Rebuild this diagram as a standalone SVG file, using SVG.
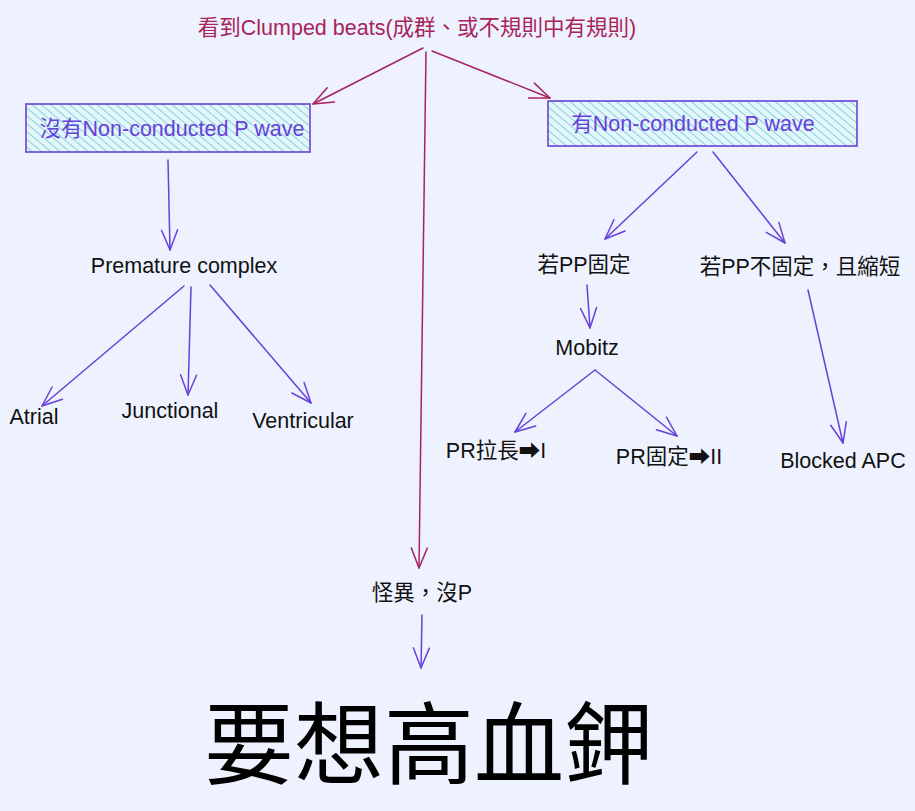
<svg xmlns="http://www.w3.org/2000/svg" width="915" height="811" viewBox="0 0 915 811">
<style>
text{font-family:"Liberation Sans","Noto Sans CJK TC","DejaVu Sans",sans-serif;text-anchor:middle}
.t{font-size:21.5px;fill:#111}
.red{font-size:21.5px;fill:#a8245a}
.pur{font-size:21.5px;fill:#6741d9}
.big{font-size:90px;fill:#000}
.box{fill:url(#hatch);stroke:#6741d9;stroke-width:1.6}
.ar{fill:none;stroke:#6741d9;stroke-width:1.5;stroke-linecap:round;stroke-linejoin:round}
.ar.r{stroke:#a8245a}
</style>
<defs>
<pattern id="hatch" patternUnits="userSpaceOnUse" width="6" height="6" patternTransform="rotate(-50)">
<rect width="6" height="6" fill="#e4f6fa"/>
<line x1="0" y1="0" x2="0" y2="6" stroke="#66c9d8" stroke-width="1.6"/>
</pattern>
<marker id="ap" markerUnits="userSpaceOnUse" markerWidth="30" markerHeight="30" refX="20" refY="10" orient="auto" overflow="visible">
<path d="M0,2 L20,10 L0,18" fill="none" stroke="#6741d9" stroke-width="1.5" stroke-linecap="round" stroke-linejoin="round"/>
</marker>
<marker id="ar" markerUnits="userSpaceOnUse" markerWidth="30" markerHeight="30" refX="20" refY="10" orient="auto" overflow="visible">
<path d="M0,2 L20,10 L0,18" fill="none" stroke="#a8245a" stroke-width="1.5" stroke-linecap="round" stroke-linejoin="round"/>
</marker>
</defs>
<rect width="915" height="811" fill="#edf2fe"/>
<g id="connectors">
<path class="ar r" d="M423,48 L313,104" marker-end="url(#ar)"/>
<path class="ar r" d="M432,51 L550,98" marker-end="url(#ar)"/>
<path class="ar r" d="M426,52 L419,568" marker-end="url(#ar)"/>
<path class="ar" d="M168,160 L170,250" marker-end="url(#ap)"/>
<path class="ar" d="M184,286 L42,406" marker-end="url(#ap)"/>
<path class="ar" d="M191,287 L188,395" marker-end="url(#ap)"/>
<path class="ar" d="M210,285 L311,403" marker-end="url(#ap)"/>
<path class="ar" d="M697,152 L605,239" marker-end="url(#ap)"/>
<path class="ar" d="M713,152 L785,243" marker-end="url(#ap)"/>
<path class="ar" d="M587,285 L590,328" marker-end="url(#ap)"/>
<path class="ar" d="M595,370 L515,432" marker-end="url(#ap)"/>
<path class="ar" d="M595,370 L677,436" marker-end="url(#ap)"/>
<path class="ar" d="M808,290 L843,443" marker-end="url(#ap)"/>
<path class="ar" d="M422,615 L421,668" marker-end="url(#ap)"/>
</g>
<g id="title"><text class="red" x="417" y="35">看到Clumped beats(成群、或不規則中有規則)</text></g>
<g id="no-p">
<rect class="box" x="26" y="104" width="284" height="48"/>
<text class="pur" x="172" y="136">沒有Non-conducted P wave</text>
</g>
<g id="has-p">
<rect class="box" x="548" y="101" width="309" height="45"/>
<text class="pur" x="693" y="131">有Non-conducted P wave</text>
</g>
<g id="premature"><text class="t" x="184" y="273">Premature complex</text></g>
<g id="atrial"><text class="t" x="34" y="424">Atrial</text></g>
<g id="junctional"><text class="t" x="170" y="418">Junctional</text></g>
<g id="ventricular"><text class="t" x="303" y="428">Ventricular</text></g>
<g id="pp-fixed"><text class="t" x="584" y="272">若PP固定</text></g>
<g id="pp-varied"><text class="t" x="800" y="274">若PP不固定，且縮短</text></g>
<g id="mobitz"><text class="t" x="587" y="355">Mobitz</text></g>
<g id="pr-long"><text class="t" x="496" y="458">PR拉長➡I</text></g>
<g id="pr-fixed"><text class="t" x="669" y="464">PR固定➡II</text></g>
<g id="blocked-apc"><text class="t" x="843" y="468">Blocked APC</text></g>
<g id="weird"><text class="t" x="422" y="600">怪異，沒P</text></g>
<g id="hyperk"><text class="big" x="429" y="777">要想高血鉀</text></g>
</svg>
